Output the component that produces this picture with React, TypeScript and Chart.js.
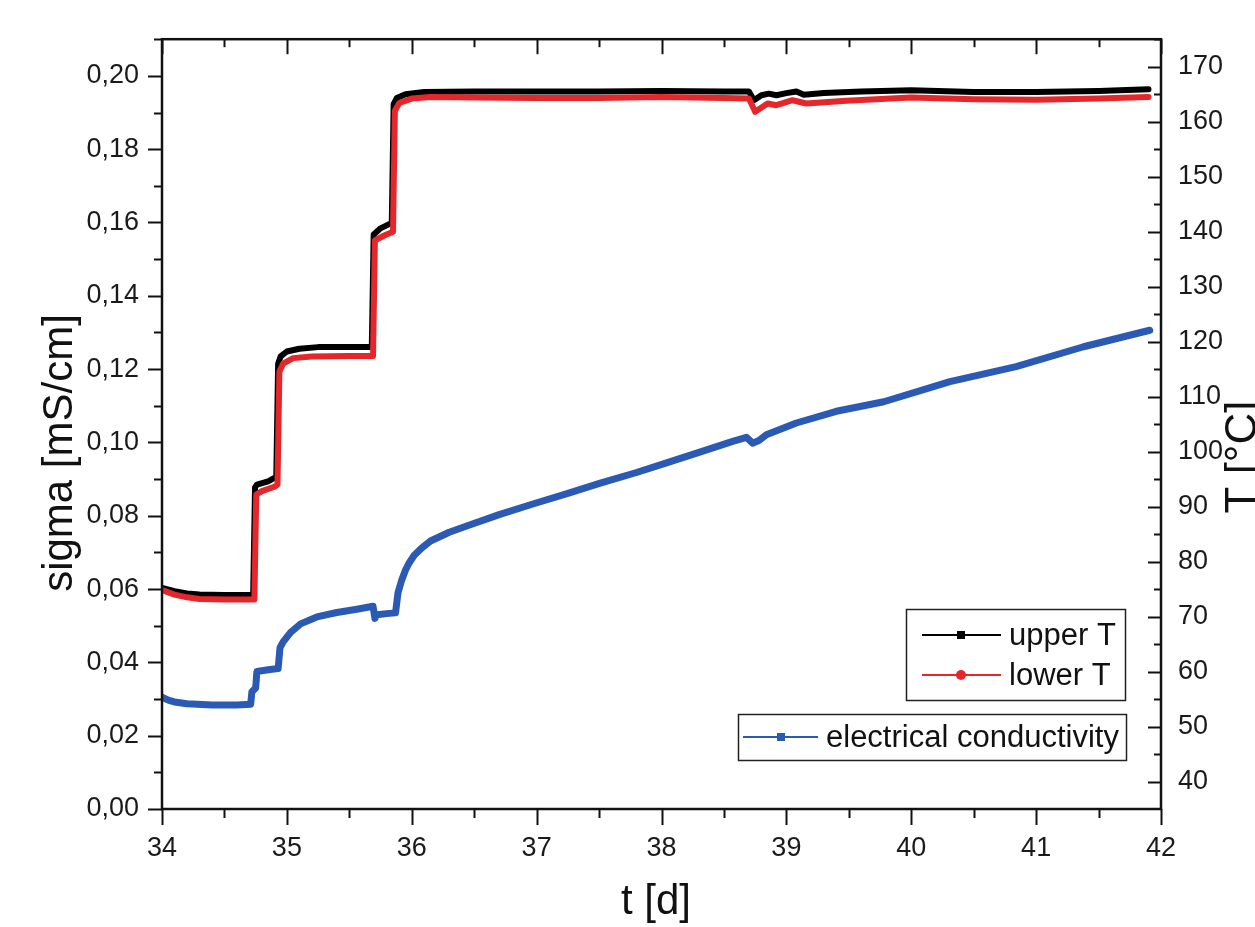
import React, { useEffect, useRef } from "react";
import { Chart, registerables } from "chart.js";
Chart.register(...registerables);

// ---------- data ----------
const upperT_t = [34.0, 34.1, 34.2, 34.3, 34.5, 34.73, 34.745, 34.76, 34.85, 34.915, 34.93, 34.95, 35.0, 35.1, 35.25, 35.5, 35.68, 35.695, 35.75, 35.84, 35.855, 35.88, 35.95, 36.1, 36.5, 37.0, 37.5, 38.0, 38.5, 38.7, 38.74, 38.8, 38.86, 38.92, 39.0, 39.08, 39.14, 39.3, 39.6, 40.0, 40.5, 41.0, 41.5, 41.9];
const upperT_v = [75.2, 74.6, 74.2, 74.0, 73.9, 73.9, 93.5, 94.0, 94.6, 95.4, 116.0, 117.3, 118.2, 118.7, 119.0, 119.0, 119.0, 139.5, 140.6, 141.6, 163.2, 164.3, 165.0, 165.4, 165.5, 165.5, 165.5, 165.6, 165.5, 165.5, 163.9, 164.8, 165.1, 164.8, 165.2, 165.5, 164.9, 165.2, 165.5, 165.7, 165.4, 165.4, 165.6, 165.9];

const lowerT_t = [34.0, 34.1, 34.2, 34.3, 34.5, 34.74, 34.755, 34.8, 34.9, 34.925, 34.94, 34.97, 35.05, 35.2, 35.5, 35.69, 35.705, 35.78, 35.85, 35.865, 35.9, 36.0, 36.15, 36.5, 37.0, 37.5, 38.0, 38.5, 38.7, 38.75, 38.85, 38.92, 39.05, 39.16, 39.48, 40.0, 40.5, 41.0, 41.5, 41.9];
const lowerT_v = [74.8, 74.0, 73.5, 73.2, 73.1, 73.1, 92.2, 92.8, 93.6, 94.0, 114.5, 116.0, 117.0, 117.3, 117.4, 117.4, 138.4, 139.3, 140.0, 162.0, 163.4, 164.2, 164.5, 164.4, 164.3, 164.3, 164.5, 164.3, 164.2, 161.8, 163.3, 163.0, 163.9, 163.3, 163.8, 164.4, 164.1, 164.0, 164.2, 164.5];

const sigma_t = [34.0, 34.05, 34.1, 34.2, 34.4, 34.6, 34.71, 34.72, 34.75, 34.76, 34.85, 34.93, 34.945, 34.97, 35.03, 35.11, 35.24, 35.4, 35.56, 35.69, 35.705, 35.72, 35.8, 35.87, 35.89, 35.92, 35.95, 35.98, 36.02, 36.08, 36.15, 36.3, 36.44, 36.7, 36.97, 37.25, 37.51, 37.8, 38.04, 38.3, 38.57, 38.68, 38.73, 38.78, 38.84, 39.08, 39.4, 39.78, 40.31, 40.84, 41.38, 41.91];
const sigma_v = [0.0305, 0.0297, 0.0292, 0.0287, 0.0284, 0.0284, 0.0286, 0.032, 0.033, 0.0375, 0.038, 0.0383, 0.044, 0.0456, 0.0482, 0.0505, 0.0524, 0.0536, 0.0545, 0.0553, 0.052, 0.053, 0.0533, 0.0535, 0.059, 0.0625, 0.0652, 0.0672, 0.0692, 0.0712, 0.0731, 0.0755, 0.0772, 0.0803, 0.0832, 0.0861, 0.0889, 0.0918, 0.0944, 0.0973, 0.1003, 0.1014, 0.0998, 0.1005, 0.1021, 0.1053, 0.1085, 0.1111, 0.1166, 0.1207, 0.1261, 0.1306];

const sigmaTicks = [0, 0.02, 0.04, 0.06, 0.08, 0.1, 0.12, 0.14, 0.16, 0.18, 0.2];
const tempTicks = [40, 50, 60, 70, 80, 90, 100, 110, 120, 130, 140, 150, 160, 170];
const dayTicks = [34, 35, 36, 37, 38, 39, 40, 41, 42];

const seriesNames = ["upper T", "lower T", "electrical conductivity"];
const axisTitles = { x: "t [d]", yLeft: "sigma [mS/cm]", yRight: "T [°C]" };

const BLACK = "#000000";
const RED = "#e5262b";
const BLUE = "#2b5ab4";
const FONT = '"Liberation Sans", Arial, Helvetica, sans-serif';

const toPts = (xs: number[], ys: number[]) => xs.map((x, i) => ({ x, y: ys[i] }));

const decoPlugin = {
  id: "deco",
  afterDraw(chart: any) {
    const ctx = chart.ctx as CanvasRenderingContext2D;
    const { left, right, top, bottom } = chart.chartArea;
    const xs = chart.scales.x;
    const yl = chart.scales.y;
    const yr = chart.scales.y1;
    ctx.save();
    ctx.strokeStyle = "#111";
    ctx.lineCap = "butt";
    ctx.lineWidth = 2;
    // left ticks (outward)
    for (let i = 0; i <= 21; i++) {
      const v = i * 0.01;
      if (v > 0.2101) break;
      const py = Math.round(yl.getPixelForValue(v)) + 0.5;
      const len = i % 2 === 0 ? 14 : 8;
      ctx.beginPath();
      ctx.moveTo(left, py);
      ctx.lineTo(left - len, py);
      ctx.stroke();
    }
    // right ticks (inward)
    for (let v = 40; v <= 175; v += 5) {
      const py = Math.round(yr.getPixelForValue(v)) + 0.5;
      const len = v % 10 === 0 ? 13 : 7;
      ctx.beginPath();
      ctx.moveTo(right, py);
      ctx.lineTo(right - len, py);
      ctx.stroke();
    }
    // bottom (outward) and top (inward)
    for (let i = 0; i <= 16; i++) {
      const v = 34 + i * 0.5;
      const px = Math.round(xs.getPixelForValue(v)) + 0.5;
      const major = i % 2 === 0;
      ctx.beginPath();
      ctx.moveTo(px, bottom);
      ctx.lineTo(px, bottom + (major ? 16 : 9));
      ctx.stroke();
      ctx.beginPath();
      ctx.moveTo(px, top);
      ctx.lineTo(px, top + (major ? 15 : 8));
      ctx.stroke();
    }
    // frame
    ctx.lineWidth = 2.5;
    ctx.strokeRect(left, top, right - left, bottom - top);

    // axis titles
    ctx.fillStyle = "#111";
    ctx.font = `42px ${FONT}`;
    ctx.textAlign = "center";
    ctx.textBaseline = "alphabetic";
    ctx.fillText(axisTitles.x, 656, 914);
    ctx.save();
    ctx.translate(72, 453);
    ctx.rotate(-Math.PI / 2);
    ctx.fillText(axisTitles.yLeft, 0, 0);
    ctx.restore();
    ctx.save();
    ctx.font = `44px ${FONT}`;
    ctx.translate(1256, 457);
    ctx.rotate(-Math.PI / 2);
    ctx.fillText(axisTitles.yRight, 0, 0);
    ctx.restore();

    // legends
    ctx.lineWidth = 1.5;
    ctx.strokeStyle = "#222";
    ctx.strokeRect(906.5, 609.5, 219, 91);
    ctx.strokeRect(738.5, 714.5, 388, 46);
    ctx.font = `31px ${FONT}`;
    ctx.textAlign = "left";
    ctx.textBaseline = "middle";
    // upper T
    ctx.strokeStyle = BLACK;
    ctx.lineWidth = 2;
    ctx.beginPath();
    ctx.moveTo(922, 635);
    ctx.lineTo(1001, 635);
    ctx.stroke();
    ctx.fillStyle = BLACK;
    ctx.fillRect(957, 631, 8, 8);
    ctx.fillStyle = "#111";
    ctx.fillText(seriesNames[0], 1009, 636);
    // lower T
    ctx.strokeStyle = RED;
    ctx.beginPath();
    ctx.moveTo(922, 675);
    ctx.lineTo(1001, 675);
    ctx.stroke();
    ctx.fillStyle = RED;
    ctx.beginPath();
    ctx.arc(961, 675, 5, 0, Math.PI * 2);
    ctx.fill();
    ctx.fillStyle = "#111";
    ctx.fillText(seriesNames[1], 1009, 676);
    // conductivity
    ctx.strokeStyle = BLUE;
    ctx.beginPath();
    ctx.moveTo(743, 737);
    ctx.lineTo(818, 737);
    ctx.stroke();
    ctx.fillStyle = BLUE;
    ctx.fillRect(777, 733, 8, 8);
    ctx.fillStyle = "#111";
    ctx.fillText(seriesNames[2], 826, 738);
    ctx.restore();
  },
};

export default function App() {
  const ref = useRef<HTMLCanvasElement | null>(null);
  useEffect(() => {
    if (!ref.current) return;
    const tickFont = { family: FONT, size: 27 };
    const chart = new Chart(ref.current, {
      type: "line",
      data: {
        datasets: [
          {
            label: seriesNames[2],
            data: toPts(sigma_t, sigma_v),
            borderColor: BLUE,
            backgroundColor: BLUE,
            borderWidth: 7,
            pointRadius: 0,
            yAxisID: "y",
            order: 0,
          },
          {
            label: seriesNames[1],
            data: toPts(lowerT_t, lowerT_v),
            borderColor: RED,
            backgroundColor: RED,
            borderWidth: 6,
            pointRadius: 0,
            yAxisID: "y1",
            order: 1,
          },
          {
            label: seriesNames[0],
            data: toPts(upperT_t, upperT_v),
            borderColor: BLACK,
            backgroundColor: BLACK,
            borderWidth: 6,
            pointRadius: 0,
            yAxisID: "y1",
            order: 2,
          },
        ],
      },
      options: {
        animation: false,
        responsive: false,
        devicePixelRatio: 1,
        layout: { padding: { top: 37, left: 0, right: 0, bottom: 0 } },
        plugins: { legend: { display: false }, tooltip: { enabled: false } },
        elements: { line: { tension: 0, borderJoinStyle: "round", borderCapStyle: "round" } },
        scales: {
          x: {
            type: "linear",
            position: "bottom",
            min: 34,
            max: 42,
            grid: { display: false, drawTicks: false },
            border: { display: false },
            afterBuildTicks: (s: any) => {
              s.ticks = dayTicks.map((v) => ({ value: v }));
            },
            afterFit: (s: any) => {
              s.height = 118;
            },
            ticks: {
              font: tickFont,
              color: "#1a1a1a",
              padding: 23,
              maxRotation: 0,
              autoSkip: false,
              callback: (v: any) => String(v),
            },
          },
          y: {
            type: "linear",
            position: "left",
            min: 0,
            max: 0.21,
            grid: { display: false, drawTicks: false },
            border: { display: false },
            afterBuildTicks: (s: any) => {
              s.ticks = sigmaTicks.map((v) => ({ value: v }));
            },
            afterFit: (s: any) => {
              s.width = 162;
            },
            ticks: {
              font: tickFont,
              color: "#1a1a1a",
              padding: 23,
              autoSkip: false,
              callback: (v: any) => Number(v).toFixed(2).replace(".", ","),
            },
          },
          y1: {
            type: "linear",
            position: "right",
            min: 35,
            max: 175,
            grid: { display: false, drawTicks: false },
            border: { display: false },
            afterBuildTicks: (s: any) => {
              s.ticks = tempTicks.map((v) => ({ value: v }));
            },
            afterFit: (s: any) => {
              s.width = 94;
            },
            ticks: {
              font: tickFont,
              color: "#1a1a1a",
              padding: 17,
              autoSkip: false,
              callback: (v: any) => String(v),
            },
          },
        },
      },
      plugins: [decoPlugin],
    } as any);
    return () => chart.destroy();
  }, []);
  return (
    <div style={{ position: "fixed", left: 0, top: 0, width: 1255, height: 927, background: "#fff" }}>
      <canvas ref={ref} width={1255} height={927} style={{ display: "block", width: 1255, height: 927 }} />
    </div>
  );
}
